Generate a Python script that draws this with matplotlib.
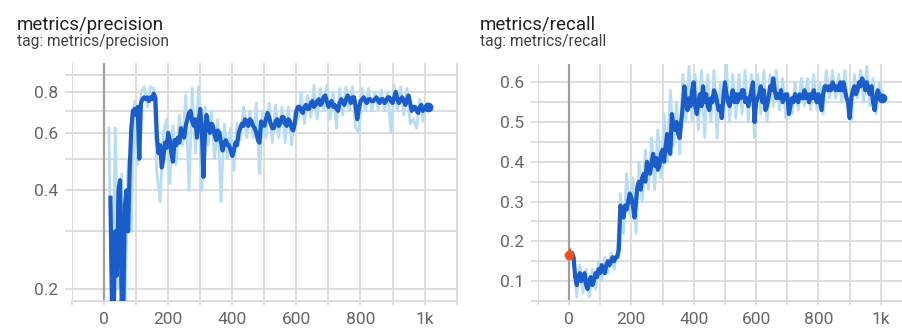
import numpy as np
import matplotlib.pyplot as plt
from matplotlib.ticker import FixedLocator, FuncFormatter, NullFormatter

plt.rcParams['font.family'] = ['Roboto', 'DejaVu Sans']

# precision, smoothed (every 5 steps from step 20)
prec_smooth = [
    0.38, 0.17, 0.16, 0.30, 0.22, 0.40, 0.43, 0.18, 0.17, 0.36,
    0.40, 0.30, 0.46, 0.62, 0.70, 0.71, 0.68, 0.72, 0.50, 0.74,
    0.76, 0.77, 0.76, 0.77, 0.75, 0.77, 0.76, 0.79, 0.77, 0.58,
    0.52, 0.55, 0.47, 0.50, 0.56, 0.54, 0.60, 0.57, 0.52, 0.49,
    0.57, 0.55, 0.58, 0.56, 0.62, 0.59, 0.58, 0.63, 0.66, 0.69,
    0.70, 0.65, 0.63, 0.66, 0.58, 0.64, 0.71, 0.62, 0.44, 0.60,
    0.68, 0.63, 0.60, 0.64, 0.63, 0.59, 0.57, 0.61, 0.60, 0.56,
    0.53, 0.56, 0.57, 0.55, 0.55, 0.53, 0.51, 0.53, 0.56, 0.55,
    0.60, 0.62, 0.64, 0.63, 0.66, 0.65, 0.63, 0.66, 0.65, 0.63,
    0.62, 0.60, 0.57, 0.56, 0.65, 0.64, 0.63, 0.66, 0.69, 0.67,
    0.64, 0.62, 0.62, 0.65, 0.66, 0.63, 0.64, 0.67, 0.67, 0.64,
    0.63, 0.66, 0.65, 0.62, 0.61, 0.64, 0.70, 0.72, 0.72, 0.70,
    0.69, 0.72, 0.73, 0.71, 0.71, 0.74, 0.75, 0.72, 0.73, 0.75,
    0.76, 0.73, 0.74, 0.77, 0.78, 0.75, 0.72, 0.74, 0.75, 0.72,
    0.73, 0.71, 0.70, 0.74, 0.76, 0.75, 0.73, 0.76, 0.78, 0.76,
    0.74, 0.77, 0.77, 0.72, 0.66, 0.71, 0.75, 0.76, 0.77, 0.75,
    0.74, 0.76, 0.76, 0.75, 0.75, 0.76, 0.77, 0.75, 0.74, 0.76,
    0.76, 0.74, 0.75, 0.77, 0.77, 0.75, 0.74, 0.77, 0.80, 0.76,
    0.74, 0.76, 0.77, 0.75, 0.73, 0.76, 0.78, 0.74, 0.70, 0.72,
    0.72, 0.70, 0.69, 0.72, 0.73, 0.70, 0.71, 0.72, 0.72,
]
prec_smooth_start = 20

# precision, raw (every 10 steps from step 15)
prec_raw = [
    0.62, 0.15, 0.62, 0.20, 0.45, 0.15, 0.50, 0.30, 0.75, 0.48,
    0.80, 0.83, 0.72, 0.83, 0.82, 0.45, 0.37, 0.60, 0.66, 0.42,
    0.63, 0.48, 0.68, 0.55, 0.78, 0.40, 0.82, 0.52, 0.83, 0.40,
    0.72, 0.55, 0.70, 0.50, 0.66, 0.37, 0.64, 0.50, 0.62, 0.46,
    0.64, 0.57, 0.72, 0.58, 0.70, 0.58, 0.74, 0.45, 0.70, 0.58,
    0.74, 0.56, 0.73, 0.58, 0.72, 0.56, 0.72, 0.55, 0.70, 0.66,
    0.80, 0.64, 0.78, 0.67, 0.84, 0.66, 0.82, 0.70, 0.84, 0.66,
    0.80, 0.62, 0.82, 0.68, 0.83, 0.70, 0.83, 0.62, 0.60, 0.82,
    0.70, 0.82, 0.70, 0.80, 0.71, 0.81, 0.70, 0.80, 0.60, 0.84,
    0.70, 0.83, 0.68, 0.82, 0.64, 0.66, 0.62, 0.76, 0.65, 0.74,
]
prec_raw_start = 15

# recall, smoothed (every 5 steps from step 0)
rec_smooth = [
    0.16, 0.17, 0.17, 0.16, 0.11, 0.09, 0.11, 0.12, 0.10, 0.11,
    0.12, 0.09, 0.08, 0.10, 0.11, 0.09, 0.10, 0.12, 0.11, 0.13,
    0.12, 0.14, 0.13, 0.12, 0.14, 0.15, 0.14, 0.15, 0.16, 0.15,
    0.16, 0.16, 0.18, 0.29, 0.28, 0.26, 0.29, 0.28, 0.30, 0.32,
    0.31, 0.29, 0.26, 0.30, 0.34, 0.35, 0.33, 0.36, 0.37, 0.35,
    0.40, 0.38, 0.37, 0.40, 0.42, 0.39, 0.41, 0.38, 0.39, 0.42,
    0.43, 0.40, 0.44, 0.47, 0.43, 0.42, 0.52, 0.49, 0.48, 0.50,
    0.47, 0.46, 0.50, 0.54, 0.59, 0.55, 0.53, 0.56, 0.54, 0.58,
    0.60, 0.54, 0.52, 0.55, 0.57, 0.54, 0.59, 0.55, 0.57, 0.54,
    0.53, 0.56, 0.55, 0.58, 0.57, 0.55, 0.53, 0.54, 0.51, 0.56,
    0.60, 0.57, 0.55, 0.54, 0.56, 0.58, 0.55, 0.57, 0.55, 0.57,
    0.56, 0.58, 0.58, 0.55, 0.56, 0.54, 0.56, 0.58, 0.60, 0.50,
    0.55, 0.56, 0.57, 0.59, 0.55, 0.58, 0.53, 0.54, 0.56, 0.59,
    0.58, 0.61, 0.58, 0.56, 0.57, 0.56, 0.58, 0.55, 0.56, 0.57,
    0.57, 0.52, 0.54, 0.56, 0.55, 0.57, 0.56, 0.55, 0.57, 0.56,
    0.56, 0.58, 0.56, 0.57, 0.55, 0.57, 0.56, 0.58, 0.56, 0.55,
    0.57, 0.55, 0.53, 0.57, 0.59, 0.59, 0.58, 0.59, 0.58, 0.60,
    0.59, 0.58, 0.59, 0.58, 0.60, 0.58, 0.60, 0.58, 0.56, 0.55,
    0.51, 0.56, 0.58, 0.59, 0.57, 0.58, 0.60, 0.59, 0.61, 0.60,
    0.58, 0.60, 0.58, 0.57, 0.59, 0.55, 0.53, 0.56, 0.58, 0.57,
    0.56, 0.56,
]
rec_smooth_start = 0

# recall, raw (every 10 steps from step 5)
rec_raw = [
    0.18, 0.17, 0.06, 0.14, 0.07, 0.13, 0.06, 0.13, 0.08, 0.15,
    0.10, 0.16, 0.12, 0.17, 0.13, 0.18, 0.32, 0.22, 0.37, 0.27,
    0.36, 0.22, 0.40, 0.30, 0.43, 0.33, 0.46, 0.33, 0.48, 0.36,
    0.52, 0.40, 0.58, 0.44, 0.55, 0.42, 0.62, 0.50, 0.64, 0.50,
    0.62, 0.48, 0.63, 0.46, 0.62, 0.50, 0.63, 0.46, 0.60, 0.52,
    0.65, 0.50, 0.62, 0.51, 0.62, 0.52, 0.63, 0.50, 0.62, 0.46,
    0.62, 0.52, 0.63, 0.50, 0.62, 0.54, 0.63, 0.53, 0.61, 0.51,
    0.56, 0.52, 0.60, 0.53, 0.61, 0.54, 0.61, 0.53, 0.62, 0.53,
    0.60, 0.52, 0.63, 0.56, 0.63, 0.56, 0.62, 0.55, 0.63, 0.52,
    0.50, 0.62, 0.56, 0.63, 0.55, 0.64, 0.54, 0.61, 0.52, 0.60,
    0.57,
]
rec_raw_start = 5

# second run in recall: single point at step 0
red_steps = [0, 3, 6]
red_vals = [0.165, 0.18, 0.165]

DARK = '#1a5cc8'
LIGHT = '#b7dcf4'
GRID = '#dadada'
ZERO = '#9e9e9e'
TICKC = '#666666'


def steps_of(vals, start, every):
    return start + every * np.arange(len(vals))


def style_axes(ax, xlim, ylim):
    ax.set_xlim(*xlim)
    ax.set_ylim(*ylim)
    ax.xaxis.set_major_locator(FixedLocator([0, 200, 400, 600, 800, 1000]))
    ax.xaxis.set_minor_locator(FixedLocator([-100, 100, 300, 500, 700, 900, 1100]))
    ax.xaxis.set_major_formatter(FuncFormatter(lambda v, p: '1k' if v == 1000 else '%d' % v))
    ax.grid(True, which='both', color=GRID, lw=1.3)
    ax.set_axisbelow(True)
    for s in ['top', 'right']:
        ax.spines[s].set_visible(False)
    ax.spines['left'].set_visible(False)
    ax.spines['bottom'].set_color(GRID)
    ax.spines['bottom'].set_linewidth(1.3)
    ax.tick_params(which='both', axis='x', length=3, width=1.3, color=GRID,
                   labelsize=12.5, labelcolor=TICKC, pad=5)
    ax.tick_params(which='both', axis='y', length=5, width=1.3, color=GRID,
                   labelsize=12.5, labelcolor=TICKC, pad=5)
    ax.axvline(0, color=ZERO, lw=1.6, zorder=1)
    ax.axvline(-100, color=GRID, lw=1.3, zorder=0)


fig = plt.figure(figsize=(9.03, 3.30), dpi=100)

# precision panel (log y)
ax1 = fig.add_axes([0.0797, 0.088, 0.426, 0.721])
ax1.set_yscale('log')
ax1.plot(steps_of(prec_raw, prec_raw_start, 10), prec_raw, color=LIGHT, lw=2.0, zorder=2)
ps = steps_of(prec_smooth, prec_smooth_start, 5)
ax1.plot(ps, prec_smooth, color=DARK, lw=3.0, zorder=3)
ax1.plot(ps[-1], prec_smooth[-1], 'o', color=DARK, ms=6, zorder=4)
style_axes(ax1, (-100, 1100), (0.184, 0.98))
ax1.yaxis.set_major_locator(FixedLocator([0.2, 0.4, 0.6, 0.8]))
ax1.yaxis.set_minor_locator(FixedLocator([0.3, 0.5, 0.7, 0.9]))
ax1.yaxis.set_major_formatter(FuncFormatter(lambda v, p: '%.1f' % v))
ax1.yaxis.set_minor_formatter(NullFormatter())
ax1.spines['right'].set_visible(True)
ax1.spines['right'].set_color(GRID)

fig.text(0.019, 0.91, 'metrics/precision', fontsize=13.5, color='#212121')
fig.text(0.019, 0.862, 'tag: metrics/precision', fontsize=11.2, color='#424242')

# recall panel (linear y)
ax2 = fig.add_axes([0.5955, 0.088, 0.4045, 0.718])
ax2.plot(steps_of(rec_raw, rec_raw_start, 10), rec_raw, color=LIGHT, lw=2.0, zorder=2)
rs = steps_of(rec_smooth, rec_smooth_start, 5)
ax2.plot(rs, rec_smooth, color=DARK, lw=3.0, zorder=3)
ax2.plot(rs[-1], rec_smooth[-1], 'o', color=DARK, ms=6, zorder=4)
ax2.plot(red_steps, red_vals, color='#f4511e', lw=1.5, zorder=4)
ax2.plot(red_steps[0], red_vals[0], 'o', color='#f4511e', ms=6, zorder=5)
style_axes(ax2, (-100, 1071), (0.05, 0.646))
ax2.yaxis.set_major_locator(FixedLocator([0.1, 0.2, 0.3, 0.4, 0.5, 0.6]))
ax2.yaxis.set_minor_locator(FixedLocator([0.05, 0.15, 0.25, 0.35, 0.45, 0.55]))
ax2.yaxis.set_major_formatter(FuncFormatter(lambda v, p: '%.1f' % v))

fig.text(0.5315, 0.91, 'metrics/recall', fontsize=13.5, color='#212121')
fig.text(0.5315, 0.862, 'tag: metrics/recall', fontsize=11.2, color='#424242')

fig.savefig('out.png', dpi=100)
